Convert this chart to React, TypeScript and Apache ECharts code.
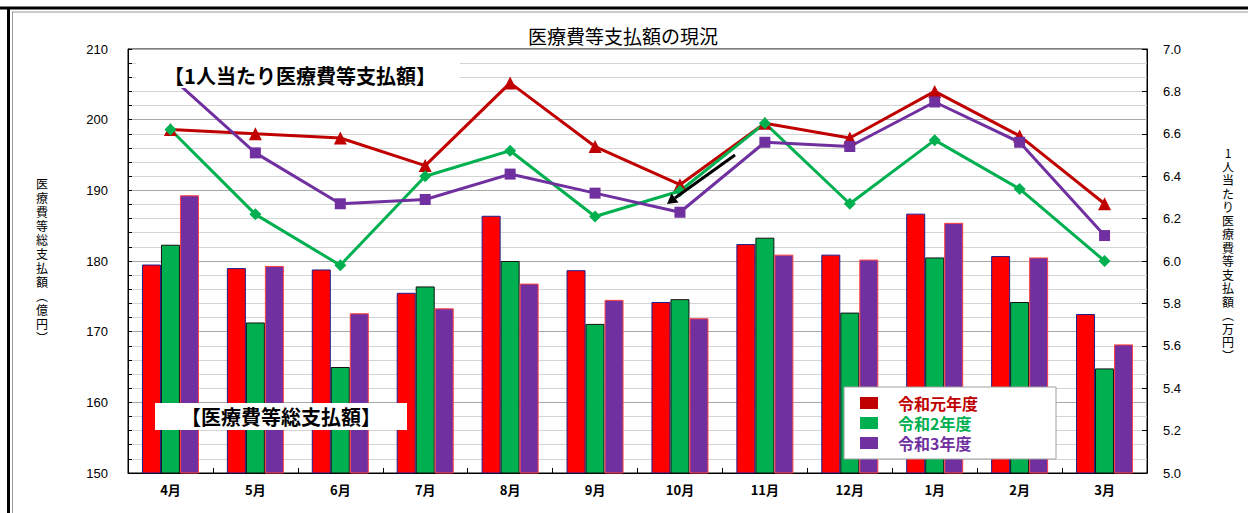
import React, { useEffect, useRef } from "react";
import * as echarts from "echarts";

const months = ["4月", "5月", "6月", "7月", "8月", "9月", "10月", "11月", "12月", "1月", "2月", "3月"];
const yearNames = ["令和元年度", "令和2年度", "令和3年度"];
// 医療費等総支払額 (億円)
const totalR1 = [179.5, 179.0, 178.8, 175.5, 186.4, 178.7, 174.2, 182.4, 180.9, 186.7, 180.7, 172.5];
const totalR2 = [182.3, 171.3, 165.0, 176.4, 180.0, 171.1, 174.6, 183.3, 172.7, 180.5, 174.2, 164.8];
const totalR3 = [189.3, 179.3, 172.6, 173.3, 176.8, 174.5, 171.9, 180.9, 180.2, 185.4, 180.5, 168.2];
// 1人当たり医療費等支払額 (万円)
const perR1 = [6.62, 6.60, 6.58, 6.45, 6.84, 6.54, 6.36, 6.65, 6.58, 6.80, 6.59, 6.27];
const perR2 = [6.62, 6.22, 5.98, 6.40, 6.52, 6.21, 6.33, 6.65, 6.27, 6.57, 6.34, 6.00];
const perR3 = [6.87, 6.51, 6.27, 6.29, 6.41, 6.32, 6.23, 6.56, 6.54, 6.75, 6.56, 6.12];

const titleText = "医療費等支払額の現況";
const leftAxisName = "医療費等総支払額︵億円︶";
const rightAxisName = "1人当たり医療費等支払額︵万円︶";
const perLabel = "【1人当たり医療費等支払額】";
const totalLabel = "【医療費等総支払額】";

const CJK = '"Noto Sans CJK JP", "Noto Sans", sans-serif';
const NUM = '"Liberation Sans", Arial, sans-serif';

const barColors = ["#FF0000", "#00B050", "#7030A0"];
const barBorders = ["#1F1F8F", "#111111", "#FF4040"];
const lineColors = ["#C00000", "#00B050", "#7030A0"];
const legendColors = ["#C00000", "#00B050", "#7030A0"];

export default function App() {
  const ref = useRef<HTMLDivElement>(null);
  useEffect(() => {
    if (!ref.current) return;
    const chart = echarts.init(ref.current, null, { renderer: "svg" });
    const totals = [totalR1, totalR2, totalR3];
    const pers = [perR1, perR2, perR3];
    const symbols = ["triangle", "diamond", "rect"];
    const symbolSizes = [13, 12, 11];

    const vertical = (s: string) => s.split("").join("\n");

    const option: any = {
      animation: false,
      backgroundColor: "#ffffff",
      grid: {
        left: 128,
        right: 101,
        top: 49,
        bottom: 40,
        show: true,
        borderColor: "#000",
        borderWidth: 1,
        backgroundColor: "#fff",
      },
      legend: {
        data: yearNames.map((n, i) => ({
          name: n,
          icon: "rect",
          itemStyle: { color: legendColors[i], borderWidth: 0 },
          textStyle: { color: legendColors[i] },
        })),
        orient: "vertical",
        left: 844,
        top: 387,
        itemWidth: 18,
        itemHeight: 12,
        itemGap: 4,
        backgroundColor: "#fff",
        borderColor: "#a0a0a0",
        borderWidth: 1,
        padding: [8, 78, 8, 16],
        selectedMode: false,
        textStyle: {
          fontSize: 16,
          fontWeight: "bold",
          fontFamily: CJK,
          padding: [0, 0, 0, 15],
        },
        z: 20,
      },
      xAxis: {
        type: "category",
        data: months,
        boundaryGap: true,
        axisLine: { lineStyle: { color: "#000", width: 1 } },
        axisTick: { show: true, inside: true, length: 5, lineStyle: { color: "#000" } },
        axisLabel: {
          color: "#000",
          fontSize: 13,
          fontWeight: "bold",
          fontFamily: CJK,
          margin: 10,
        },
        splitLine: { show: false },
      },
      yAxis: [
        {
          type: "value",
          min: 150,
          max: 210,
          interval: 10,
          axisLine: { show: true, lineStyle: { color: "#000" } },
          axisTick: { show: true, inside: true, length: 4, lineStyle: { color: "#000" } },
          minorTick: { show: true, splitNumber: 5, length: 4, lineStyle: { color: "#000" } },
          axisLabel: { color: "#000", fontSize: 13, fontFamily: NUM, margin: 20 },
          splitLine: { show: true, lineStyle: { color: "#a8a8a8", width: 1 } },
          minorSplitLine: { show: true, lineStyle: { color: "#d4d4d4", width: 1 } },
        },
        {
          type: "value",
          min: 5,
          max: 7,
          interval: 0.2,
          axisLine: { show: true, lineStyle: { color: "#000" } },
          axisTick: { show: true, inside: true, length: 5, lineStyle: { color: "#000" } },
          axisLabel: {
            color: "#000",
            fontSize: 13,
            fontFamily: NUM,
            margin: 16,
            formatter: (v: number) => v.toFixed(1),
          },
          splitLine: { show: false },
        },
      ],
      series: [
        ...totals.map((d, i) => ({
          name: yearNames[i],
          type: "bar",
          yAxisIndex: 0,
          data: d,
          barWidth: 19,
          barGap: "0%",
          itemStyle: { color: barColors[i], borderColor: barBorders[i], borderWidth: 1 },
          z: 2,
        })),
        ...pers.map((d, i) => ({
          name: yearNames[i] + "(1人当たり)",
          type: "line",
          yAxisIndex: 1,
          data: d,
          symbol: symbols[i],
          symbolSize: symbolSizes[i],
          lineStyle: { color: lineColors[i], width: 3 },
          itemStyle: { color: lineColors[i] },
          z: 3,
        })),
      ],
      graphic: {
        elements: [
          // spreadsheet frame
          { type: "line", shape: { x1: 0, y1: 8, x2: 1248, y2: 8 }, style: { stroke: "#000", lineWidth: 3 }, z: 50 },
          { type: "line", shape: { x1: 12, y1: 12, x2: 1248, y2: 12 }, style: { stroke: "#9a9a9a", lineWidth: 1 }, z: 50 },
          { type: "line", shape: { x1: 8.5, y1: 7, x2: 8.5, y2: 513 }, style: { stroke: "#000", lineWidth: 3 }, z: 50 },
          { type: "line", shape: { x1: 12.5, y1: 12, x2: 12.5, y2: 513 }, style: { stroke: "#9a9a9a", lineWidth: 1 }, z: 50 },
          // title
          {
            type: "text",
            x: 623,
            y: 35,
            z: 50,
            style: {
              text: titleText,
              fontSize: 19,
              fontFamily: CJK,
              fill: "#000",
              textAlign: "center",
              textVerticalAlign: "middle",
            },
          },
          // left axis name
          {
            type: "text",
            x: 42,
            y: 176,
            z: 50,
            style: {
              text: vertical(leftAxisName),
              fontSize: 12,
              lineHeight: 14,
              fontFamily: CJK,
              fill: "#000",
              textAlign: "center",
            },
          },
          // right axis name
          {
            type: "text",
            x: 1228,
            y: 146,
            z: 50,
            style: {
              text: vertical(rightAxisName),
              fontSize: 12,
              lineHeight: 13.5,
              fontFamily: CJK,
              fill: "#000",
              textAlign: "center",
            },
          },
          // per capita label box
          { type: "rect", shape: { x: 136, y: 55, width: 324, height: 33 }, style: { fill: "#fff" }, z: 100 },
          {
            type: "text",
            x: 300,
            y: 75,
            z: 101,
            style: {
              text: perLabel,
              fontSize: 20,
              fontWeight: "bold",
              fontFamily: CJK,
              fill: "#000",
              textAlign: "center",
              textVerticalAlign: "middle",
            },
          },
          // total label box
          { type: "rect", shape: { x: 155, y: 403, width: 252, height: 27 }, style: { fill: "#fff" }, z: 100 },
          {
            type: "text",
            x: 281,
            y: 416,
            z: 101,
            style: {
              text: totalLabel,
              fontSize: 20,
              fontWeight: "bold",
              fontFamily: CJK,
              fill: "#000",
              textAlign: "center",
              textVerticalAlign: "middle",
            },
          },
          // arrow
          { type: "line", shape: { x1: 735, y1: 155, x2: 675, y2: 198 }, style: { stroke: "#000", lineWidth: 3 }, z: 60 },
          {
            type: "polygon",
            shape: { points: [[667, 204], [678.5, 202.5], [671.5, 193.5]] },
            style: { fill: "#000" },
            z: 60,
          },
        ],
      },
    };
    chart.setOption(option);
    return () => chart.dispose();
  }, []);
  return (
    <div
      ref={ref}
      style={{ position: "fixed", left: 0, top: 0, width: 1248, height: 513, background: "#fff" }}
    />
  );
}
